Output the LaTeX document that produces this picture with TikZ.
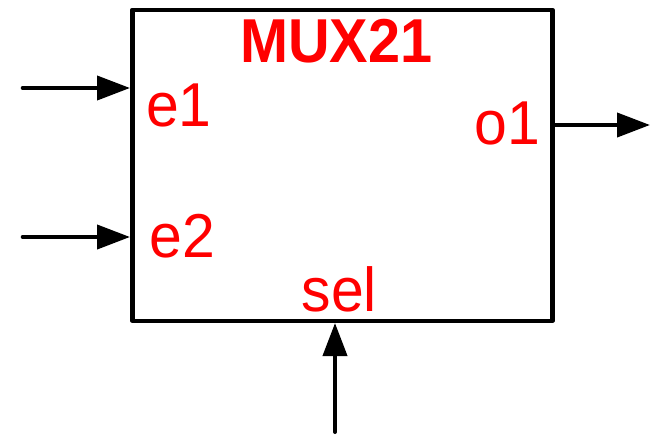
\documentclass[tikz,border=0pt]{standalone}
\usepackage{fontspec}
\setmainfont{Liberation Sans}
\usetikzlibrary{arrows.meta}
\definecolor{lblred}{RGB}{255,0,0}
\newcommand{\lblsq}[1]{\scalebox{0.95}[1]{#1}}
\tikzset{
  arr/.style={line width=4pt, line cap=round, -{Triangle[length=33pt,width=24pt]}},
  lbl/.style={text=lblred, inner sep=0pt, anchor=base west, font=\fontsize{62}{62}\selectfont},
}
\begin{document}
\begin{tikzpicture}[x=1pt,y=-1pt]
\useasboundingbox (0,0) rectangle (650,434);
\node[draw, line width=4.5pt, line join=round, inner sep=0pt, minimum width=420pt, minimum height=311pt, anchor=north west] (box) at (130,7.5) {};
\node[lbl, font=\fontsize{62}{62}\selectfont\bfseries] (title) at (239.8,62.7) {\scalebox{0.93}[1]{MUX21}};
\node[lbl] (le1) at (146,126.7) {\lblsq{e1}};
\node[lbl] (le2) at (149.3,257) {\lblsq{e2}};
\node[lbl] (lo1) at (474.3,144) {\lblsq{o1}};
\node[lbl] (lsel) at (301.5,311.7) {\lblsq{sel}};
\coordinate (i1) at (22.7,88);
\coordinate (i2) at (22.7,237);
\coordinate (o1) at (650,125);
\coordinate (s) at (335,432);
\draw[arr] (i1) -- (i1 -| box.west);
\draw[arr] (i2) -- (i2 -| box.west);
\draw[arr] (box.east |- o1) -- (o1);
\draw[arr] (s) -- (s |- box.south);
\end{tikzpicture}
\end{document}
